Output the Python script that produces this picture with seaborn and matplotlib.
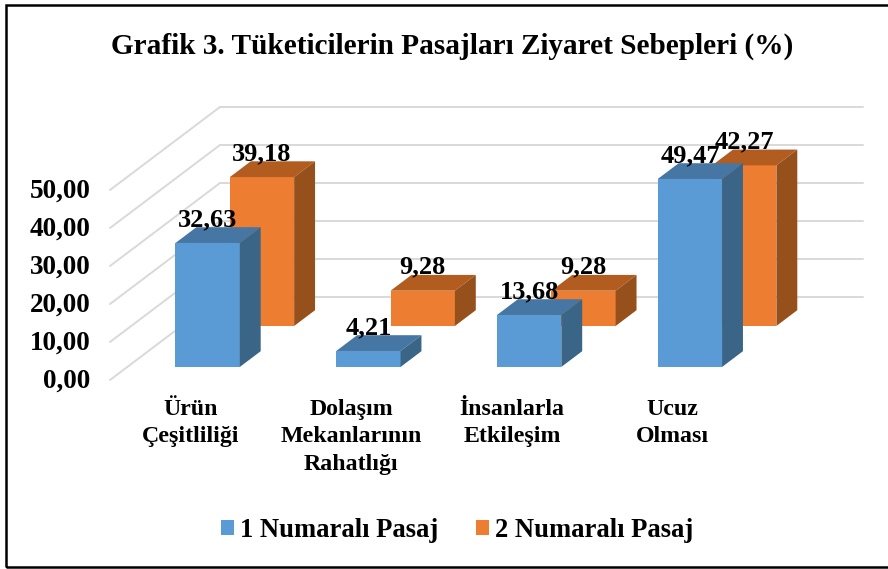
import matplotlib
matplotlib.use("Agg")
import matplotlib.pyplot as plt
from matplotlib.patches import Polygon, Rectangle
import numpy as np
import pandas as pd
import seaborn as sns

categories = ["Ürün\nÇeşitliliği", "Dolaşım\nMekanlarının\nRahatlığı", "İnsanlarla\nEtkileşim", "Ucuz\nOlması"]
pasaj_1 = [32.63, 4.21, 13.68, 49.47]
pasaj_2 = [39.18, 9.28, 9.28, 42.27]
y_ticks = [0, 10, 20, 30, 40, 50]

title = "Grafik 3. Tüketicilerin Pasajları Ziyaret Sebepleri (%)"
name_1 = "1 Numaralı Pasaj"
name_2 = "2 Numaralı Pasaj"

sns.set_style("white")
plt.rcParams['font.family'] = ['Liberation Serif', 'DejaVu Serif']
plt.rcParams['font.weight'] = 'bold'
plt.rcParams['text.color'] = 'black'

# oblique projection, in data units (1 category = 160.75px, 1 unit = 3.8px)
wall_dx, wall_dy = 110 / 160.75, 83 / 3.8
bar_w = 0.4


def depth(frac):
    return frac * wall_dx, frac * wall_dy


pos = np.arange(len(categories))
df = pd.DataFrame({"pos": pos, "p1": pasaj_1, "p2": pasaj_2})

fig, ax = plt.subplots(figsize=(8.88, 5.69), dpi=100)
ax.set_position([0, 0, 1, 1])

# walls
grid_c = "#d9d9d9"
for t in y_ticks:
    ax.plot([-0.5, -0.5 + wall_dx], [t, t + wall_dy], color=grid_c, lw=1.4, zorder=0)
    ax.plot([-0.5 + wall_dx, 3.5 + wall_dx], [t + wall_dy, t + wall_dy], color=grid_c, lw=1.4, zorder=0)


def bars3d(col, frac, face, top, side, label):
    dx, dy = depth(frac)
    bdx, bdy = depth(0.19)
    n = len(ax.patches)
    sns.barplot(data=df.assign(x=df.pos + dx), x="x", y=col, color=face, saturation=1,
                native_scale=True, width=bar_w, bottom=dy, errorbar=None,
                label=label, linewidth=0, ax=ax)
    for b in list(ax.patches[n:]):
        x0, y0 = b.get_x(), b.get_y()
        w, h = b.get_width(), b.get_height()
        ax.add_patch(Polygon([(x0, y0 + h), (x0 + w, y0 + h), (x0 + w + bdx, y0 + h + bdy), (x0 + bdx, y0 + h + bdy)],
                             facecolor=top, edgecolor="none"))
        ax.add_patch(Polygon([(x0 + w, y0), (x0 + w + bdx, y0 + bdy), (x0 + w + bdx, y0 + h + bdy), (x0 + w, y0 + h)],
                             facecolor=side, edgecolor="none"))
    for x, v in zip(pos, df[col]):
        ax.text(x + dx, v + dy + 6.2, f"{v:.2f}".replace(".", ","), ha="center", va="center",
                fontsize=19, zorder=5)


bars3d("p2", 0.651, "#ED7D31", "#B35C20", "#95501C", name_2)
bars3d("p1", 0.157, "#5B9BD5", "#4676A3", "#3A6587", name_1)

ax.set_xlim((0 - 110) / 160.75 - 0.5, (888 - 110) / 160.75 - 0.5)
ax.set_ylim((380 - 569) / 3.8, 380 / 3.8)
ax.axis("off")

# tick labels
for t in y_ticks:
    ax.text(-0.62, t - 0.3, f"{t:.2f}".replace(".", ","), ha="right", va="center", fontsize=19.5)
for x, c in zip(pos, categories):
    ax.text(x, -4.9, c, ha="center", va="top", fontsize=17.2, linespacing=1.41)

ax.text(0.509, 0.919, title, transform=ax.transAxes, ha="center", va="center", fontsize=21.1)

h, l = ax.get_legend_handles_labels()
order = [l.index(name_1), l.index(name_2)]
ax.legend([h[i] for i in order], [l[i] for i in order], loc="center", bbox_to_anchor=(0.515, 0.067),
          ncol=2, frameon=False, fontsize=19.2, handlelength=0.49, handleheight=0.49,
          handletextpad=0.22, columnspacing=1.42)

# outer frame, the right edge runs off the picture
fig.add_artist(Rectangle((6 / 888, 2 / 569), 890 / 888, 562 / 569, transform=fig.transFigure,
                         fill=False, edgecolor="black", lw=1.8))

fig.savefig("out.png", dpi=100)
